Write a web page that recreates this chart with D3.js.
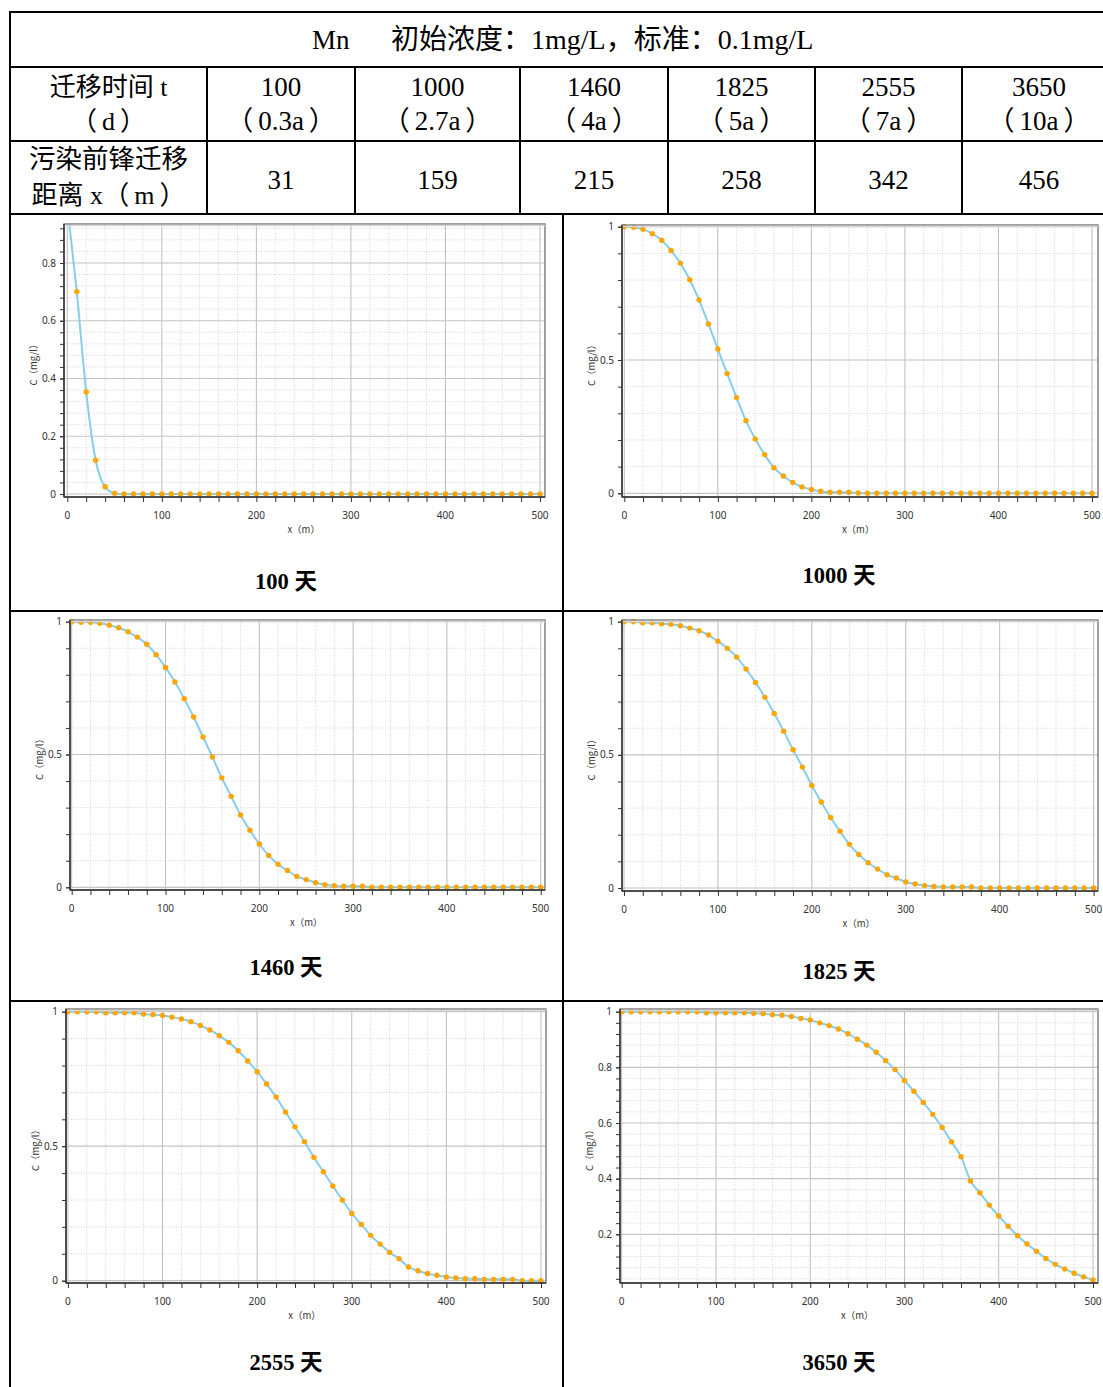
<!DOCTYPE html>
<html><head><meta charset="utf-8">
<script src="https://cdn.jsdelivr.net/npm/d3@7"></script>
<style>body{margin:0;background:#fff}svg{display:block}</style>
</head><body>
<svg id="c" width="1103" height="1387"></svg>
<script>
// ---------- table data ----------
const headerElement = "Mn";
const headerText = "初始浓度：1mg/L，标准：0.1mg/L";
const rowLabelTime = ["迁移时间 t", "（d）"];
const rowLabelDist = ["污染前锋迁移", "距离 x（m）"];
const timesDays = ["100", "1000", "1460", "1825", "2555", "3650"];
const timesYears = ["（0.3a）", "（2.7a）", "（4a）", "（5a）", "（7a）", "（10a）"];
const frontDistances = ["31", "159", "215", "258", "342", "456"];

// ---------- chart data ----------
const xPos = [0,10,20,30,40,50,60,70,80,90,100,110,120,130,140,150,160,170,180,190,200,
  210,220,230,240,250,260,270,280,290,300,310,320,330,340,350,360,370,380,390,400,
  410,420,430,440,450,460,470,480,490,500];
const chartTitles = ["100 天", "1000 天", "1460 天", "1825 天", "2555 天", "3650 天"];
const c100 = [1.0,0.701,0.353,0.117,0.025,0.003,0,0,0,0,0,0,0,0,0,0,0,0,0,0,0,
  0,0,0,0,0,0,0,0,0,0,0,0,0,0,0,0,0,0,0,0,0,0,0,0,0,0,0,0,0,0];
const c1000 = [1.0,0.9975,0.99,0.974,0.949,0.911,0.8625,0.801,0.725,0.635,0.541,0.449,0.359,0.2725,0.204,0.145,0.096,0.065,0.041,0.024,0.014,
  0.0075,0.004,0.004,0.004,0.001,0,0,0,0,0,0,0,0,0,0,0,0,0,0,0,0,0,0,0,0,0,0,0,0,0];
const c1460 = [1.0,0.9975,0.9975,0.994,0.987,0.977,0.962,0.942,0.915,0.876,0.828,0.773,0.710,0.641,0.566,0.491,0.412,0.3425,0.272,0.2146,0.163,
  0.120,0.0866,0.063,0.041,0.029,0.0176,0.010,0.006,0.004,0.004,0.004,0,0,0,0,0,0,0,0,0,0,0,0,0,0,0,0,0,0,0];
const c1825 = [1.0,1.0,0.996,0.996,0.9925,0.99,0.985,0.976,0.966,0.950,0.927,0.900,0.867,0.822,0.772,0.716,0.655,0.589,0.519,0.454,0.385,
  0.323,0.265,0.213,0.164,0.126,0.095,0.071,0.050,0.0375,0.0225,0.015,0.009,0.006,0.004,0.004,0.004,0.004,0,0,0,0,0,0,0,0,0,0,0,0,0];
const c2555 = [1.0,1.0,1.0,1.0,0.996,0.996,0.996,0.996,0.991,0.989,0.986,0.980,0.973,0.963,0.949,0.932,0.911,0.886,0.855,0.817,0.777,
  0.731,0.683,0.627,0.572,0.517,0.4585,0.405,0.352,0.300,0.250,0.209,0.1685,0.136,0.105,0.082,0.051,0.037,0.027,0.020,0.0136,
  0.0099,0.0074,0.0074,0.005,0.005,0.005,0.005,0,0,0];
const c3650 = [1.0,1.0,1.0,1.0,1.0,1.0,1.0,1.0,1.0,0.996,0.996,0.996,0.996,0.996,0.994,0.993,0.989,0.987,0.983,0.976,0.970,
  0.960,0.950,0.938,0.921,0.901,0.880,0.854,0.824,0.792,0.753,0.714,0.674,0.631,0.584,0.532,0.479,0.392,0.349,0.305,0.266,
  0.229,0.195,0.165,0.139,0.113,0.092,0.0755,0.060,0.047,0.036];
const xTickLabels = [0,100,200,300,400,500];
const yTicks100 = [0,0.2,0.4,0.6,0.8];
const yTicksHalf = [0,0.5,1];
const yTicks3650 = [0.2,0.4,0.6,0.8,1];

const svg = d3.select("#c");
const serif = "'Liberation Serif','Times New Roman','Noto Sans CJK SC',serif";
const sans = "'Noto Sans','DejaVu Sans',sans-serif";

// ---------- table ----------
const T = svg.append("g");
function hline(y, x1, x2, w) { T.append("line").attr("x1", x1).attr("x2", x2).attr("y1", y).attr("y2", y).attr("stroke", "#000").attr("stroke-width", w || 2); }
function vline(x, y1, y2, w) { T.append("line").attr("x1", x).attr("x2", x).attr("y1", y1).attr("y2", y2).attr("stroke", "#000").attr("stroke-width", w || 2); }
hline(12, 9, 1103); hline(67, 9, 1103); hline(141, 9, 1103); hline(214, 9, 1103);
hline(611, 9, 1103); hline(1001, 9, 1103);
vline(10, 11, 1387);
const colEdges = [10, 207, 355, 520, 668, 815, 962, 1116];
colEdges.slice(1, 7).forEach(x => vline(x, 67, 214));
vline(563, 214, 1387);

// text with wider spacing around full-width parentheses
function ttext(x, y, s, size, anchor) {
  const t = T.append("text").attr("x", x).attr("y", y).attr("text-anchor", anchor || "middle")
    .attr("font-family", serif).attr("font-size", size).attr("fill", "#000");
  const parts = s.split(/([（）])/).filter(d => d.length);
  let prevOpen = false;
  parts.forEach(part => {
    const ts = t.append("tspan").text(part);
    if (part === "）") ts.attr("dx", 5);
    else if (prevOpen) ts.attr("dx", 5);
    prevOpen = part === "（";
  });
  return t;
}
ttext(312, 49, headerElement, 27, "start");
ttext(391, 49, headerText, 28, "start");
const c0 = (colEdges[0] + colEdges[1]) / 2;
ttext(c0, 96, rowLabelTime[0], 26);
ttext(c0, 130, rowLabelTime[1], 26);
ttext(c0, 168, rowLabelDist[0], 26.5);
ttext(c0, 204, rowLabelDist[1], 26);
timesDays.forEach((s, i) => {
  const cx = (colEdges[i + 1] + colEdges[i + 2]) / 2;
  ttext(cx, 96, s, 27);
  ttext(cx, 130, timesYears[i], 27);
  ttext(cx, 189, frontDistances[i], 27);
});

// ---------- charts ----------
const panels = [
  { data: c100,  box: [64, 545, 224, 497],   xr: [67.3, 540],   yd: [0, 0.8], yr: [494, 263],     yMajor: yTicks100, yMinorStep: 0.04, yMinorMax: 0.93, tx: 286, ty: 589 },
  { data: c1000, box: [622, 1098, 225, 497], xr: [624.3, 1092], yd: [0, 1],   yr: [493.3, 226.7], yMajor: yTicksHalf, yMinorStep: 0.1, yMinorMax: 1.0, tx: 839, ty: 583 },
  { data: c1460, box: [70, 545, 620, 890],   xr: [71.7, 540.7], yd: [0, 1],   yr: [887.3, 621.7], yMajor: yTicksHalf, yMinorStep: 0.1, yMinorMax: 1.0, tx: 286, ty: 975 },
  { data: c1825, box: [622, 1098, 620, 891], xr: [624, 1093.6], yd: [0, 1],   yr: [888, 621.7],   yMajor: yTicksHalf, yMinorStep: 0.1, yMinorMax: 1.0, tx: 839, ty: 979 },
  { data: c2555, box: [66, 546, 1009, 1283], xr: [67.9, 541],   yd: [0, 1],   yr: [1280.7, 1011.7], yMajor: yTicksHalf, yMinorStep: 0.1, yMinorMax: 1.0, tx: 286, ty: 1370 },
  { data: c3650, box: [620, 1098, 1009, 1283], xr: [621.7, 1093], yd: [0.2, 1], yr: [1234.3, 1011.7], yMajor: yTicks3650, yMinorStep: 0.04, yMinorMax: 1.0, yMinorMin: 0.04, tx: 839, ty: 1370 }
];

panels.forEach((p, idx) => {
  const [l, r, t, b] = p.box;
  const x = d3.scaleLinear().domain([0, 500]).range(p.xr);
  const y = d3.scaleLinear().domain(p.yd).range(p.yr);
  const g = svg.append("g");
  const xMinor = d3.range(0, 501, 20);
  const yMinor = d3.range(0, Math.round(p.yMinorMax / p.yMinorStep) + 1).map(i => +(i * p.yMinorStep).toFixed(4))
      .filter(v => v >= (p.yMinorMin || 0) && y(v) >= t - 0.5 && y(v) <= b);

  g.append("rect").attr("x", l).attr("y", t).attr("width", r - l).attr("height", b - t).attr("fill", "#fff");
  // minor grid
  xMinor.filter(v => v % 100 !== 0).forEach(v => {
    g.append("line").attr("x1", x(v)).attr("x2", x(v)).attr("y1", t).attr("y2", b)
      .attr("stroke", "#d6d6d6").attr("stroke-width", 1).attr("stroke-dasharray", "1,1.5");
  });
  yMinor.filter(v => !p.yMajor.some(m => Math.abs(m - v) < 1e-6)).forEach(v => {
    g.append("line").attr("x1", l).attr("x2", r).attr("y1", y(v)).attr("y2", y(v))
      .attr("stroke", "#d6d6d6").attr("stroke-width", 1).attr("stroke-dasharray", "1,1.5");
  });
  // major grid
  xTickLabels.forEach(v => {
    g.append("line").attr("x1", x(v)).attr("x2", x(v)).attr("y1", t).attr("y2", b)
      .attr("stroke", "#bdbdbd").attr("stroke-width", 1);
  });
  p.yMajor.forEach(v => {
    g.append("line").attr("x1", l).attr("x2", r).attr("y1", y(v)).attr("y2", y(v))
      .attr("stroke", "#c4c4c4").attr("stroke-width", 1.2);
  });

  // clip paths
  const cid = "clip" + idx, mid = "mclip" + idx;
  const defs = g.append("defs");
  defs.append("clipPath").attr("id", cid).append("rect").attr("x", l).attr("y", t).attr("width", r - l).attr("height", b - t);
  defs.append("clipPath").attr("id", mid).append("rect").attr("x", l - 4).attr("y", t - 4).attr("width", r - l + 8).attr("height", b - t + 8);

  const pts = xPos.map((v, i) => [v, p.data[i]]);
  g.append("path").datum(pts).attr("clip-path", `url(#${cid})`)
    .attr("d", d3.line().x(d => x(d[0])).y(d => y(d[1])).curve(d3.curveMonotoneX))
    .attr("fill", "none").attr("stroke", "#87CEEB").attr("stroke-width", 2);
  g.append("g").attr("clip-path", `url(#${mid})`).selectAll("circle")
    .data(pts.filter(d => y(d[1]) >= t - 3)).join("circle")
    .attr("cx", d => x(d[0])).attr("cy", d => y(d[1])).attr("r", 2.7).attr("fill", "#FFA500");

  // frame
  g.append("rect").attr("x", l).attr("y", t).attr("width", r - l).attr("height", b - t)
    .attr("fill", "none").attr("stroke", "#6e6e6e").attr("stroke-width", 1.3);
  g.append("line").attr("x1", l).attr("x2", r).attr("y1", t + 1.5).attr("y2", t + 1.5).attr("stroke", "#d8d8d8").attr("stroke-width", 1.5);

  // bottom axis
  const ax = g.append("g").attr("transform", `translate(0,${b})`)
    .call(d3.axisBottom(x).tickValues(xMinor).tickSize(5).tickFormat(""));
  ax.select(".domain").remove();
  ax.selectAll("line").attr("stroke", "#333");
  g.append("line").attr("x1", l).attr("x2", r).attr("y1", b).attr("y2", b).attr("stroke", "#333").attr("stroke-width", 1.5);
  xTickLabels.forEach(v => {
    g.append("text").attr("x", x(v)).attr("y", b + 22).attr("text-anchor", "middle")
      .attr("font-family", sans).attr("font-size", 10).attr("fill", "#333").text(String(v));
  });
  g.append("text").attr("x", (p.xr[0] + p.xr[1]) / 2).attr("y", b + 36).attr("text-anchor", "middle")
    .attr("font-family", "'Noto Sans CJK SC'," + sans).attr("font-size", 9.5).attr("fill", "#333").text("x（m）");

  // left axis
  const ay = g.append("g").attr("transform", `translate(${l},0)`)
    .call(d3.axisLeft(y).tickValues(yMinor.concat(p.yMajor)).tickSize(4).tickFormat(""));
  ay.select(".domain").remove();
  ay.selectAll("line").attr("stroke", "#333");
  g.append("line").attr("x1", l).attr("x2", l).attr("y1", t).attr("y2", b).attr("stroke", "#333").attr("stroke-width", 1.5);
  p.yMajor.forEach(v => {
    g.append("text").attr("x", l - 8).attr("y", y(v) + 3.5).attr("text-anchor", "end")
      .attr("font-family", sans).attr("font-size", 10).attr("fill", "#333").text(String(v));
  });
  g.append("text").attr("transform", `translate(${l - 27},${(t + b) / 2 + 2}) rotate(-90)`).attr("text-anchor", "middle")
    .attr("font-family", "'Noto Sans CJK SC'," + sans).attr("font-size", 9.5).attr("fill", "#333").text("C（mg/l）");

  // panel title
  g.append("text").attr("x", p.tx).attr("y", p.ty).attr("text-anchor", "middle")
    .attr("font-family", serif).attr("font-weight", "bold").attr("font-size", 22.5).attr("fill", "#000").text(chartTitles[idx]);
});
</script>
</body></html>
